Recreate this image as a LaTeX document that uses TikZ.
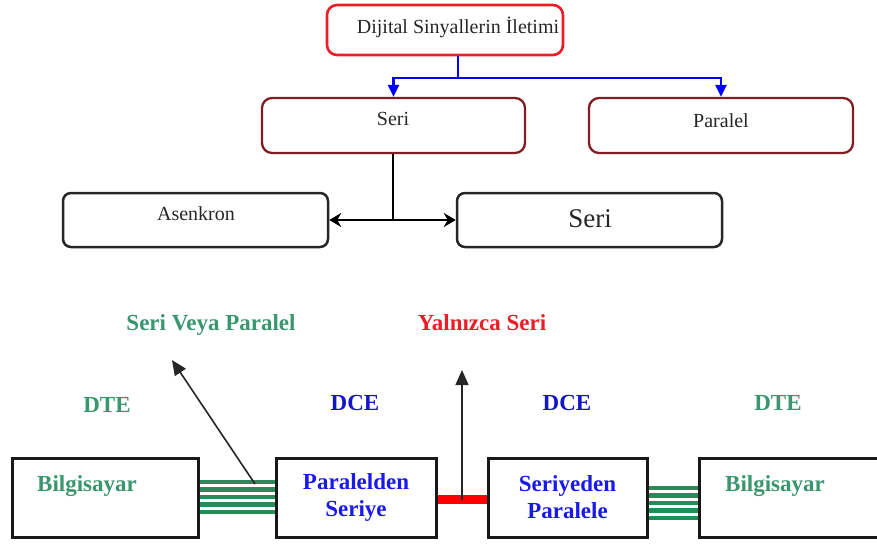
\documentclass[tikz,border=0pt]{standalone}
\usepackage{fontspec}
\setmainfont{Liberation Serif}
\usetikzlibrary{arrows.meta,calc}
\definecolor{boxred}{RGB}{235,30,40}
\definecolor{maroon}{RGB}{130,30,35}
\definecolor{lblgreen}{RGB}{58,150,110}
\definecolor{stripegreen}{RGB}{40,140,90}
\definecolor{lblblue}{RGB}{25,25,235}
\begin{document}
\begin{tikzpicture}[x=1pt,y=-1pt,
  topbox/.style={draw=boxred,line width=2.6pt,rounded corners=10pt,minimum width=236pt,minimum height=50pt,inner sep=0pt},
  midbox/.style={draw=maroon,line width=2.3pt,rounded corners=10pt,minimum width=263pt,minimum height=55pt,inner sep=0pt},
  lowbox/.style={draw=black!85,line width=2.5pt,rounded corners=8pt,minimum width=265pt,minimum height=54pt,inner sep=0pt},
  hwbox/.style={draw=black!90,line width=3pt,minimum height=79pt,inner sep=0pt},
  txt/.style={font=\fontsize{20}{24}\selectfont,text=black!85,inner sep=0pt},
  bluecon/.style={draw=blue,line width=2.8pt,-{Triangle[width=11pt,length=12pt]}},
  blackcon/.style={draw=black,line width=2.6pt,-{Stealth[width=14pt,length=12pt,inset=4pt]}},
  plain/.style={draw=black,line width=2.6pt},
  upcon/.style={draw=black!85,line width=1.6pt,-{Triangle[width=13pt,length=15pt]}},
  bold/.style={font=\fontsize{23}{27}\selectfont\bfseries,inner sep=0pt,align=center},
  stripe/.style={draw=stripegreen,line width=4.5pt}
]
\useasboundingbox (0,0) rectangle (877,546);

% top tree
\node[topbox] (top) at (445,30) {};
\node[txt] (toptxt) at (458,27) {Dijital Sinyallerin İletimi};
\node[midbox] (seri) at (393.5,125.5) {};
\node[txt] (seritxt) at (393,119) {Seri};
\node[midbox,minimum width=264pt] (paralel) at (721,125.5) {};
\node[txt] (paraleltxt) at (721,121) {Paralel};
\node[lowbox] (asen) at (195.5,220) {};
\node[txt] (asentxt) at (196,214) {Asenkron};
\node[lowbox] (seri2) at (589.5,220) {};
\node[txt,font=\fontsize{27}{32}\selectfont] (seri2txt) at (590,219) {Seri};

\coordinate (b) at (458,78);
\draw[draw=blue,line width=2.8pt] (top.south -| b) -- (b);
\draw[bluecon] (b) -| (seri.north);
\draw[bluecon] (b) -| (paralel.north);

\coordinate (j) at (393,220);
\draw[plain] (seri.south -| j) -- (j);
\draw[blackcon] (j) -- (asen.east);
\draw[blackcon] (j) -- (seri2.west);

% labels
\node[bold,text=lblgreen] (svp) at (211,325) {Seri Veya Paralel};
\node[bold,text=boxred] (ys) at (482,323) {Yalnızca Seri};
\node[bold,text=lblgreen] (dte1) at (107,405) {DTE};
\node[bold,text=lblblue!85!black] (dce1) at (355,403) {DCE};
\node[bold,text=lblblue!85!black] (dce2) at (567,403) {DCE};
\node[bold,text=lblgreen] (dte2) at (778,403) {DTE};

% bottom boxes
\node[hwbox,minimum width=186pt] (bil1) at (105,497.5) {};
\node[bold,text=lblgreen] (bil1txt) at (87,486) {Bilgisayar};
\node[hwbox,minimum width=160pt] (pds) at (356,497.5) {};
\node[bold,text=lblblue] (pdstxt) at (356,497) {Paralelden\\Seriye};
\node[hwbox,minimum width=159pt] (sdp) at (567.5,497.5) {};
\node[bold,text=lblblue] (sdptxt) at (567.5,497) {Seriyeden\\Paralele};
\node[hwbox,minimum width=182pt] (bil2) at (790,497.5) {};
\node[bold,text=lblgreen] (bil2txt) at (775,486) {Bilgisayar};

% stripes
\foreach \y in {482,489.5,497,504.5,512}
  \draw[stripe] (bil1.east |- 0,\y) -- (pds.west |- 0,\y);
\foreach \y in {488,495.5,503,510.5,518}
  \draw[stripe] (sdp.east |- 0,\y) -- (bil2.west |- 0,\y);

% red serial link
\coordinate (r) at (462,499.5);
\draw[draw=red,line width=9pt] (pds.east |- r) -- (sdp.west |- r);

% arrows
\coordinate (a1s) at (255,484);
\coordinate (a1e) at (172,360);
\draw[upcon] (a1s) -- (a1e);
\coordinate (a2e) at (462,370);
\draw[upcon] (r) -- (a2e);
\end{tikzpicture}
\end{document}
